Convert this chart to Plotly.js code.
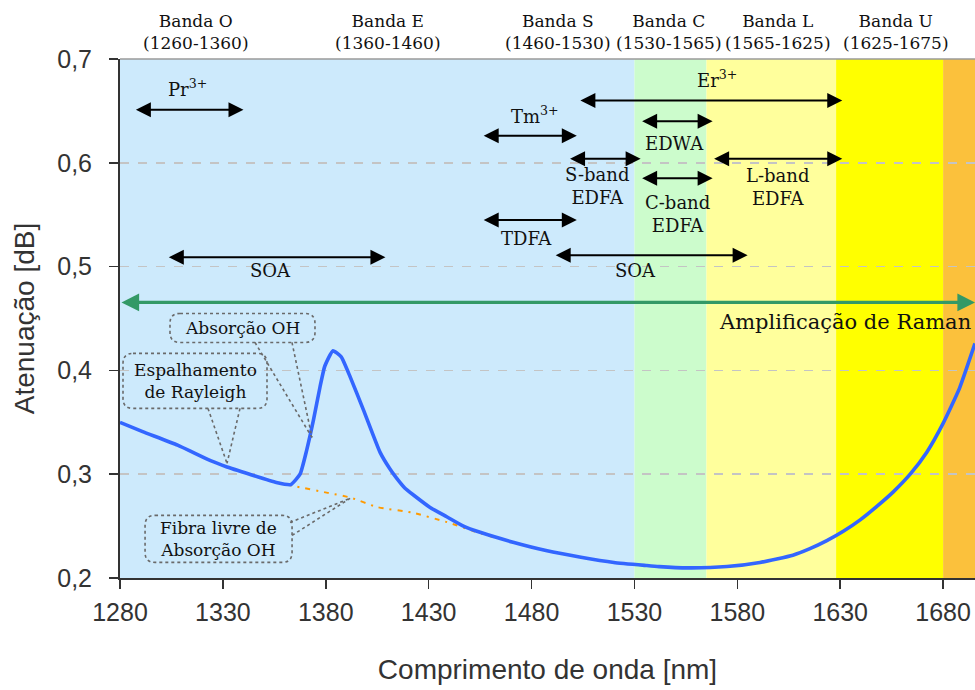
<!DOCTYPE html>
<html>
<head>
<meta charset="utf-8">
<script src="https://cdn.plot.ly/plotly-3.0.1.min.js"></script>
<style>html,body{margin:0;padding:0;background:#fff;}</style>
</head>
<body>
<div id="chart" style="width:975px;height:690px;"></div>
<script>
// Attenuation of a standard fibre, including the OH absorption peak
const wavelengthNm = [1280, 1291, 1308, 1324, 1332, 1343, 1356, 1363, 1367.5, 1370.7, 1374, 1377.2,
  1379.5, 1383.5, 1387.5, 1391.8, 1398.3, 1406.4, 1411.2, 1414.5, 1418.5, 1422.6, 1430.7, 1438.8, 1446.9, 1455,
  1471, 1487, 1504, 1520, 1536, 1542, 1556, 1575, 1591, 1607, 1615, 1623.5, 1631.5, 1639.7,
  1647.8, 1655.8, 1664, 1672, 1680, 1688, 1695.5];
const attenuationDb = [0.350, 0.341, 0.328, 0.313, 0.307, 0.300, 0.292, 0.290, 0.300, 0.323, 0.352, 0.384,
  0.404, 0.419, 0.413, 0.394, 0.362, 0.321, 0.305, 0.296, 0.2865, 0.280, 0.268, 0.259, 0.250, 0.244,
  0.2345, 0.2265, 0.220, 0.215, 0.212, 0.211, 0.2098, 0.211, 0.215, 0.222, 0.228, 0.236, 0.245, 0.256,
  0.269, 0.283, 0.300, 0.321, 0.349, 0.383, 0.426];

// Same fibre without OH absorption
const ohFreeWavelengthNm = [1352, 1366, 1381, 1392, 1405, 1422, 1439, 1452, 1462];
const ohFreeAttenuationDb = [0.294, 0.288, 0.282, 0.2775, 0.2683, 0.263, 0.2538, 0.2451, 0.239];

// Shaded spectral regions
const bandEdgesNm = [1280, 1530, 1565, 1628, 1680, 1695.5];
const bandColors = ['#cdeafc', '#ccfccc', '#ffff9c', '#ffff00', '#fbc13c'];

// Band names above the plot
const bandNames = ['Banda O', 'Banda E', 'Banda S', 'Banda C', 'Banda L', 'Banda U'];
const bandRanges = ['(1260-1360)', '(1360-1460)', '(1460-1530)', '(1530-1565)', '(1565-1625)', '(1625-1675)'];
const bandLabelNm = [1317, 1410, 1493, 1547, 1600, 1657];

// Amplifier coverage arrows
const ampStartNm = [1287, 1303, 1456, 1503, 1533, 1498, 1568, 1533, 1456, 1491];
const ampEndNm   = [1340, 1409, 1502, 1631, 1568, 1533, 1631, 1568, 1502, 1585];
const ampLevelDb = [0.651, 0.509, 0.626, 0.660, 0.640, 0.604, 0.604, 0.585, 0.545, 0.511];

// Amplifier labels
const ampLabels  = ['Pr<sup>3+</sup>', 'SOA', 'Tm<sup>3+</sup>', 'Er<sup>3+</sup>', 'EDWA',
  'S-band<br>EDFA', 'L-band<br>EDFA', 'C-band<br>EDFA', 'TDFA', 'SOA'];
const ampLabelNm = [1312.6, 1353, 1481.7, 1570, 1549.7, 1511.8, 1599.3, 1550.7, 1477.3, 1530.3];
const ampLabelDb = [0.672, 0.4965, 0.646, 0.681, 0.619, 0.578, 0.577, 0.551, 0.527, 0.4965];

// Raman amplification spans the whole window
const ramanStartNm = 1280, ramanEndNm = 1695.5, ramanLevelDb = 0.4655;
const ramanLabel = 'Amplificação de Raman';
const ramanLabelNm = 1570.2, ramanLabelDb = 0.4465;

// Callouts: text and the curve point each one points to
const calloutTexts = ['Absorção OH', 'Espalhamento<br>de Rayleigh', 'Fibra livre de<br>Absorção OH'];
const calloutTipNm = [1373.3, 1332, 1391.8];
const calloutTipDb = [0.3354, 0.3104, 0.2767];

const SERIF = 'DejaVu Serif, serif';
const SANS = 'Liberation Sans, Arial, sans-serif';

// callout geometry in pixels relative to its tip (screen axes, y down)
const calloutBoxes = [
  {box: [-142, -124, 3, -95], tail: [[-57, -95], [-20, -95]]},
  {box: [-104, -110, 40, -55], tail: [[-19, -55], [13, -55]]},
  {box: [-205, 17, -58, 64], tail: [[-60, 24], [-58, 37]]}
];

function roundRectPath(x0, y0, x1, y1, r) {
  const Y = v => -v;
  return `M${x0 + r},${Y(y0)} L${x1 - r},${Y(y0)} Q${x1},${Y(y0)} ${x1},${Y(y0 + r)} ` +
    `L${x1},${Y(y1 - r)} Q${x1},${Y(y1)} ${x1 - r},${Y(y1)} L${x0 + r},${Y(y1)} ` +
    `Q${x0},${Y(y1)} ${x0},${Y(y1 - r)} L${x0},${Y(y0 + r)} Q${x0},${Y(y0)} ${x0 + r},${Y(y0)} Z`;
}

const shapes = [];
for (let i = 0; i < bandColors.length; i++) {
  shapes.push({type: 'rect', xref: 'x', yref: 'paper', x0: bandEdgesNm[i], x1: bandEdgesNm[i + 1],
    y0: 0, y1: 1, fillcolor: bandColors[i], line: {width: 0}, layer: 'below'});
}
// top border of the plot area
shapes.push({type: 'line', xref: 'paper', yref: 'paper', x0: 0, x1: 1, y0: 1, y1: 1,
  line: {color: '#9a9a9a', width: 1.5}});

calloutBoxes.forEach((c, i) => {
  const [bx0, by0, bx1, by1] = c.box;
  const common = {xref: 'x', yref: 'y', xsizemode: 'pixel', ysizemode: 'pixel',
    xanchor: calloutTipNm[i], yanchor: calloutTipDb[i],
    line: {color: '#6a6a6a', width: 1.6, dash: 'dot'}, fillcolor: 'rgba(0,0,0,0)'};
  shapes.push(Object.assign({type: 'path', path: roundRectPath(bx0, by0, bx1, by1, 10)}, common));
  c.tail.forEach(p => {
    shapes.push(Object.assign({type: 'path', path: `M${p[0]},${-p[1]} L0,0`}, common));
  });
});

const annotations = [];
bandNames.forEach((n, i) => {
  annotations.push({xref: 'x', yref: 'paper', x: bandLabelNm[i], y: 1, yanchor: 'bottom', yshift: 4,
    text: n + '<br>' + bandRanges[i], showarrow: false, font: {family: SERIF, size: 17, color: '#111'}});
});
ampStartNm.forEach((s, i) => {
  annotations.push({xref: 'x', yref: 'y', axref: 'x', ayref: 'y', x: ampEndNm[i], y: ampLevelDb[i],
    ax: s, ay: ampLevelDb[i], text: '', showarrow: true, arrowside: 'end+start',
    arrowhead: 2, startarrowhead: 2, arrowsize: 1.5, startarrowsize: 1.5, arrowwidth: 2,
    arrowcolor: '#000', standoff: 0, startstandoff: 0});
  annotations.push({xref: 'x', yref: 'y', x: ampLabelNm[i], y: ampLabelDb[i], text: ampLabels[i],
    showarrow: false, font: {family: SERIF, size: 18, color: '#111'}});
});
annotations.push({xref: 'x', yref: 'y', axref: 'x', ayref: 'y', x: ramanEndNm, y: ramanLevelDb,
  ax: ramanStartNm, ay: ramanLevelDb, text: '', showarrow: true, arrowside: 'end+start',
  arrowhead: 2, startarrowhead: 2, arrowsize: 1.1, startarrowsize: 1.1, arrowwidth: 3.2,
  arrowcolor: '#339966', standoff: 0, startstandoff: 0});
annotations.push({xref: 'x', yref: 'y', x: ramanLabelNm, y: ramanLabelDb, xanchor: 'left',
  text: ramanLabel, showarrow: false, font: {family: SERIF, size: 21, color: '#111'}});
calloutTexts.forEach((t, i) => {
  const b = calloutBoxes[i].box;
  annotations.push({xref: 'x', yref: 'y', x: calloutTipNm[i], y: calloutTipDb[i],
    xshift: (b[0] + b[2]) / 2, yshift: -(b[1] + b[3]) / 2, text: t, showarrow: false,
    font: {family: SERIF, size: 17, color: '#111'}});
});

const traces = [
  {x: ohFreeWavelengthNm, y: ohFreeAttenuationDb, mode: 'lines', type: 'scatter',
    line: {color: '#ff9a00', width: 2, dash: '5px,6px,2px,6px', shape: 'spline', smoothing: 0.5},
    hoverinfo: 'skip'},
  {x: wavelengthNm, y: attenuationDb, mode: 'lines', type: 'scatter',
    line: {color: '#3366ff', width: 3.6, shape: 'spline', smoothing: 0.45}, hoverinfo: 'skip'}
];

const layout = {
  width: 975, height: 690,
  margin: {l: 120, r: 0, t: 59, b: 112},
  paper_bgcolor: '#ffffff', plot_bgcolor: '#ffffff',
  showlegend: false,
  separators: ',.',
  xaxis: {
    range: [1280, 1695.5], tickvals: [1280, 1330, 1380, 1430, 1480, 1530, 1580, 1630, 1680],
    ticks: 'outside', ticklen: 9, tickwidth: 1.5, tickcolor: '#333',
    showline: true, linecolor: '#333', linewidth: 2, showgrid: false, zeroline: false,
    tickfont: {family: SANS, size: 25, color: '#333'}, ticklabelstandoff: 2,
    title: {text: 'Comprimento de onda [nm]', font: {family: SANS, size: 28, color: '#333'}, standoff: 34}
  },
  yaxis: {
    range: [0.2, 0.7], dtick: 0.1, tick0: 0.2, tickformat: '.1f',
    ticks: 'outside', ticklen: 9, tickwidth: 1.5, tickcolor: '#333',
    showline: true, linecolor: '#333', linewidth: 2, zeroline: false,
    showgrid: true, gridcolor: '#c4c4c4', gridwidth: 1.5, griddash: 'dash',
    tickfont: {family: SANS, size: 25, color: '#333'}, ticklabelstandoff: 12,
    title: {text: 'Atenuação [dB]', font: {family: SANS, size: 28, color: '#333'}, standoff: 14}
  },
  shapes: shapes,
  annotations: annotations
};

Plotly.newPlot('chart', traces, layout, {staticPlot: true, displayModeBar: false});
</script>
</body>
</html>
